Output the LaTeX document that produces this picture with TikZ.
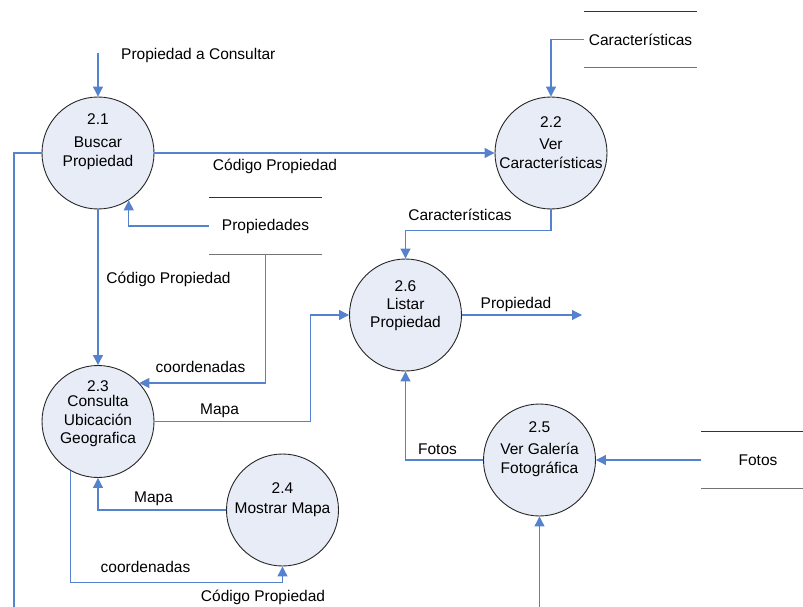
\documentclass[tikz,border=0pt]{standalone}
\usepackage{fontspec}
\setmainfont{Liberation Sans}
\usetikzlibrary{arrows.meta,positioning,calc}
\definecolor{flow}{RGB}{84,130,204}
\definecolor{bubble}{RGB}{231,236,247}

\begin{document}
\begin{tikzpicture}[x=1pt,y=-1pt,
    font=\fontsize{15.5}{18.5}\selectfont,
    proc/.style={circle,draw=black!85,line width=0.9pt,fill=bubble,minimum size=112pt,inner sep=0pt},
    txt/.style={inner sep=0pt,align=center},
    store/.style={minimum width=113pt,minimum height=56pt,inner sep=0pt},
    flw/.style={draw=flow,line width=1.1pt,-{Triangle[length=10pt,width=10pt]}},
    lne/.style={draw=flow,line width=1.1pt}]
    \useasboundingbox (0,0) rectangle (803,607);

    % processes
    \node[proc] (p21) at (98,153) {};
    \node[txt] (n21) at (98,119) {2.1};
    \node[txt] (t21) at (98,153.5) {Buscar\\Propiedad};

    \node[proc] (p22) at (551,153) {};
    \node[txt] (n22) at (551,122) {2.2};
    \node[txt] (t22) at (551,153.5) {Ver\\Características};

    \node[proc] (p23) at (98,421.5) {};
    \node[txt] (n23) at (98,386) {2.3};
    \node[txt] (t23) at (98,421) {Consulta\\Ubicación\\Geografica};

    \node[proc] (p24) at (282.5,510) {};
    \node[txt] (n24) at (282.5,488) {2.4};
    \node[txt] (t24) at (282.5,510) {Mostrar Mapa};

    \node[proc] (p25) at (539.5,460) {};
    \node[txt] (n25) at (539.5,427) {2.5};
    \node[txt] (t25) at (539.5,460) {Ver Galería\\Fotográfica};

    \node[proc] (p26) at (405.5,315) {};
    \node[txt] (n26) at (405.5,286) {2.6};
    \node[txt] (t26) at (405.5,314.5) {Listar\\Propiedad};

    % data stores
    \node[store] (sProp) at (265.5,226) {Propiedades};
    \node[store] (sCar) at (640.5,39.5) {Características};
    \node[store] (sFot) at (758,460) {Fotos};
    \foreach \s in {sProp,sCar,sFot} {
        \draw[black!80,line width=1.2pt] (\s.north west) -- (\s.north east);
        \draw[black!55,line width=1.2pt] (\s.south west) -- (\s.south east);
    }

    % loose ends
    \coordinate (in21) at (98,53);
    \coordinate (outL) at (14,607);
    \coordinate (out26) at (582,315);
    \coordinate (in25) at (539.5,607);

    % flows
    \draw[flw] (in21) -- (p21.north);
    \node[anchor=west,inner sep=0pt] (lIn) at (121,55) {Propiedad a Consultar};

    \draw[lne] (p21.west) -| (outL);

    \draw[flw] (p21.east) -- (p22.west);
    \node[inner sep=0pt] (lCod1) at (275,166) {Código Propiedad};

    \draw[flw] (sProp.west) -| (p21.-57);

    \draw[flw] (p21.south) -- (p23.north);
    \node[inner sep=0pt] (lCod2) at (168.5,279) {Código Propiedad};

    \draw[flw] (sProp.south) |- (p23.43);
    \node[inner sep=0pt] (lCoo1) at (200.5,367) {coordenadas};

    \draw[flw] (p23.east) -| ([xshift=-39pt]p26.west) -- (p26.west);
    \node[inner sep=0pt] (lMap1) at (219.5,411) {Mapa};

    \draw[flw] (p24.west) -| (p23.south);
    \node[inner sep=0pt] (lMap2) at (153.5,499) {Mapa};

    \draw[flw] (p23.-119) |- ([yshift=-16pt]p24.south) -- (p24.south);
    \node[inner sep=0pt] (lCoo2) at (145.5,566.5) {coordenadas};
    \node[inner sep=0pt] (lCod3) at (263,597.5) {Código Propiedad};

    \draw[flw] (sCar.west) -| (p22.north);

    \draw[flw] (p22.south) -- ++(0,21) -| (p26.north);
    \node[inner sep=0pt] (lCar) at (460,215) {Características};

    \draw[flw] (p26.east) -- (out26);
    \node[inner sep=0pt] (lProp) at (516,304) {Propiedad};

    \draw[flw] (p25.west) -| (p26.south);
    \node[inner sep=0pt] (lFot) at (437.5,449) {Fotos};

    \draw[flw] (sFot.west) -- (p25.east);

    \draw[flw] (in25) -- (p25.south);
\end{tikzpicture}
\end{document}
